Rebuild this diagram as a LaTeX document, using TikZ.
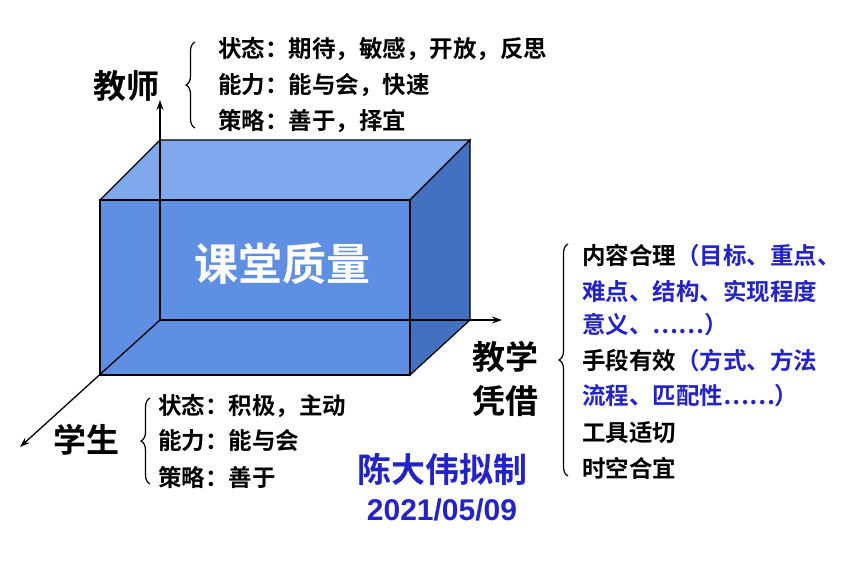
\documentclass[tikz,border=0pt]{standalone}
\usepackage{fontspec}
\setmainfont{Noto Sans CJK SC}[BoldFont={* Bold}]
\usetikzlibrary{decorations.pathreplacing,arrows.meta}
\definecolor{bl}{HTML}{2323C8}
\begin{document}
\begin{tikzpicture}[x=1pt,y=-1pt,
 item/.style={anchor=west,font=\fontsize{23.5}{23.5}\selectfont\bfseries,inner sep=0},
 big/.style={font=\fontsize{33}{33}\selectfont\bfseries,inner sep=0},
 brc/.style={decorate,decoration={brace,amplitude=9pt},line width=1.2pt},
 ax/.style={line width=1.3pt,-{Stealth[length=10pt,width=7pt]}}]
\useasboundingbox (0,0) rectangle (867,566);
\definecolor{fr}{HTML}{5F8FE2}\definecolor{tp}{HTML}{80A8EC}\definecolor{rt}{HTML}{4470C0}
\filldraw[fill=tp,draw=black,line width=1.2pt] (100,200) -- (160,140) -- (470,140) -- (410,200) -- cycle;
\filldraw[fill=rt,draw=black,line width=1.2pt] (410,200) -- (470,140) -- (470,320) -- (410,375) -- cycle;
\filldraw[fill=fr,draw=black,line width=1.2pt] (100,200) rectangle (410,375);
\coordinate (o) at (160,320);
\coordinate (yt) at (160,100);
\coordinate (xt) at (502,320);
\coordinate (zt) at (20,447);
\draw[ax] (o) -- (yt);
\draw[ax] (o) -- (xt);
\draw[ax] (o) -- (zt);
\node[font=\fontsize{44}{44}\selectfont\bfseries,text=white] (q) at (282,264) {课堂质量};
% teacher
\node[big] (t) at (126,86) {教师};
\draw[brc] (195,128) -- (195,42);
\node[item] (t1) at (218,49) {状态：期待，敏感，开放，反思};
\node[item] (t2) at (218,85) {能力：能与会，快速};
\node[item] (t3) at (218,121) {策略：善于，择宜};
% student
\node[big] (s) at (86,440) {学生};
\draw[brc] (150,484) -- (150,398);
\node[item] (s1) at (158,406) {状态：积极，主动};
\node[item] (s2) at (158,441) {能力：能与会};
\node[item] (s3) at (158,477) {策略：善于};
% means
\node[big] (m1) at (505,357) {教学};
\node[big] (m2) at (505,401) {凭借};
\draw[brc] (568,476) -- (568,244);
\node[item] (r1) at (582,256) {内容合理\textcolor{bl}{（目标、重点、}};
\node[item,text=bl] (r2) at (582,291) {难点、结构、实现程度};
\node[item,text=bl] (r3) at (582,325) {意义、……）};
\node[item] (r4) at (582,361) {手段有效\textcolor{bl}{（方式、方法}};
\node[item,text=bl] (r5) at (582,396) {流程、匹配性……）};
\node[item] (r6) at (582,433) {工具适切};
\node[item] (r7) at (582,468) {时空合宜};
\node[font=\fontsize{34}{34}\selectfont\bfseries,text=bl] (a) at (442,469) {陈大伟拟制};
\node[font=\fontsize{30}{30}\selectfont\fontspec{Liberation Sans}\bfseries,text=bl] (d) at (442,510) {2021/05/09};
\end{tikzpicture}
\end{document}
